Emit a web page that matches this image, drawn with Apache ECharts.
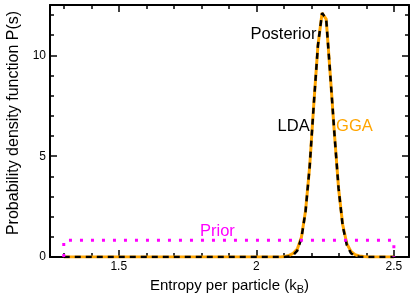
<!DOCTYPE html>
<html><head><meta charset="utf-8">
<script src="https://cdn.jsdelivr.net/npm/echarts@6/dist/echarts.min.js"></script>
<style>html,body{margin:0;padding:0;background:#fff}#c{width:415px;height:294px}</style>
</head><body><div id="c"></div>
<script>
// ---- data ----
const ldaX = [1.300, 2.104, 2.119, 2.134, 2.149, 2.164, 2.179, 2.194, 2.209, 2.224, 2.239, 2.254, 2.269, 2.284, 2.299, 2.314, 2.329, 2.344, 2.359, 2.374, 2.389, 2.500];
const ldaY = [0,     0,     0.02,  0.09,  0.32,  0.94,  2.27,  4.5,   7.6,   10.5,  12.1,  11.8,  9.0,   6.1,   3.4,   1.54,  0.59,  0.19,  0.05,  0.01,  0,     0];
const ggaX = [1.300, 2.089, 2.104, 2.119, 2.134, 2.149, 2.164, 2.179, 2.194, 2.209, 2.224, 2.239, 2.254, 2.269, 2.284, 2.299, 2.314, 2.329, 2.344, 2.359, 2.374, 2.389, 2.404, 2.500];
const ggaY = [0,     0,     0.03,  0.08,  0.18,  0.4,   0.98,  2.3,   4.5,   7.6,   10.5,  12.1,  11.8,  9.0,   6.1,   3.4,   1.6,   0.66,  0.28,  0.12,  0.05,  0.02,  0,     0];
const priorX = [1.3, 1.3, 2.5, 2.5];
const priorY = [0, 0.833, 0.833, 0];
const xMajorTicks = [1.5, 2, 2.5];
const xMinorTicks = [1.3, 1.4, 1.6, 1.7, 1.8, 1.9, 2.1, 2.2, 2.3, 2.4];
const yMajorTicks = [0, 5, 10];
const yMinorTicks = [1, 2, 3, 4, 6, 7, 8, 9, 11, 12];
const labelTexts = { posterior: 'Posterior', lda: 'LDA', gga: 'GGA', prior: 'Prior' };

const pairs = (xs, ys) => xs.map((x, i) => [x, ys[i]]);
const FONT = '"Liberation Sans", Arial, Helvetica, sans-serif';
const X_MIN = 1.25, X_MAX = 2.555, Y_MIN = 0, Y_MAX = 12.5;

const chart = echarts.init(document.getElementById('c'), null, { renderer: 'canvas' });

function axisCfg(type, pos, ticks, tickLen, showLine, showLabels) {
  const isX = type === 'x';
  return {
    type: 'value', position: pos,
    min: isX ? X_MIN : Y_MIN, max: isX ? X_MAX : Y_MAX,
    axisLine: { show: showLine, onZero: false, lineStyle: { color: '#000', width: 2 } },
    axisTick: { show: true, inside: true, length: tickLen, customValues: ticks,
      lineStyle: { color: '#000', width: 1.5 } },
    minorTick: { show: false },
    splitLine: { show: false }, minorSplitLine: { show: false },
    axisLabel: { show: showLabels, customValues: ticks, color: '#000', fontSize: 12,
      fontFamily: FONT, margin: 4, formatter: v => String(v) }
  };
}

const xb = axisCfg('x', 'bottom', xMajorTicks, 7, true, true);
xb.name = '{a|Entropy per particle (k}{b|B}{a|)}';
xb.nameLocation = 'middle';
xb.nameGap = 17;
xb.nameTextStyle = {
  color: '#000', fontSize: 15, fontFamily: FONT,
  rich: {
    a: { color: '#000', fontSize: 15, fontFamily: FONT },
    b: { color: '#000', fontSize: 11, fontFamily: FONT, padding: [9, 0, 0, 0] }
  }
};
const yl = axisCfg('y', 'left', yMajorTicks, 7, true, true);
yl.name = 'Probability density function P(s)';
yl.nameLocation = 'middle';
yl.nameGap = 22;
yl.nameTextStyle = { color: '#000', fontSize: 16, fontFamily: FONT, padding: [0, 0, 0, 16] };

chart.setOption({
  animation: false,
  backgroundColor: '#fff',
  grid: { left: 50, right: 6, top: 5, bottom: 37, containLabel: false, outerBoundsMode: 'none' },
  xAxis: [
    xb,
    axisCfg('x', 'top', xMajorTicks, 7, true, false),
    axisCfg('x', 'bottom', xMinorTicks, 4, false, false),
    axisCfg('x', 'top', xMinorTicks, 4, false, false)
  ],
  yAxis: [
    yl,
    axisCfg('y', 'right', yMajorTicks, 7, true, false),
    axisCfg('y', 'left', yMinorTicks, 4, false, false),
    axisCfg('y', 'right', yMinorTicks, 4, false, false)
  ],
  series: [
    { name: 'GGA', type: 'line', data: pairs(ggaX, ggaY), showSymbol: false, symbol: 'none', z: 3,
      lineStyle: { color: '#FFA500', width: 3 } },
    { name: 'LDA', type: 'line', data: pairs(ldaX, ldaY), showSymbol: false, symbol: 'none', z: 4,
      lineStyle: { color: '#000', width: 2.5, type: [6, 5] } },
    { name: 'Prior', type: 'line', data: pairs(priorX, priorY), showSymbol: false, symbol: 'none', z: 5,
      lineStyle: { color: '#FF00FF', width: 3, type: [3, 8] } }
  ]
});

function txt(key, dx, dy, color, align) {
  const p = chart.convertToPixel({ xAxisIndex: 0, yAxisIndex: 0 }, [dx, dy]);
  return { type: 'text', z: 10, style: { text: labelTexts[key], x: p[0], y: p[1], fill: color,
    font: '16.5px ' + FONT, align: align, verticalAlign: 'middle', textAlign: align, textVerticalAlign: 'middle' } };
}
chart.setOption({
  graphic: [
    txt('posterior', 2.2185, 11.03, '#000', 'right'),
    txt('lda', 2.194, 6.5, '#000', 'right'),
    txt('gga', 2.2898, 6.5, '#FFA500', 'left'),
    txt('prior', 1.7953, 1.29, '#FF00FF', 'left')
  ]
});
</script></body></html>
